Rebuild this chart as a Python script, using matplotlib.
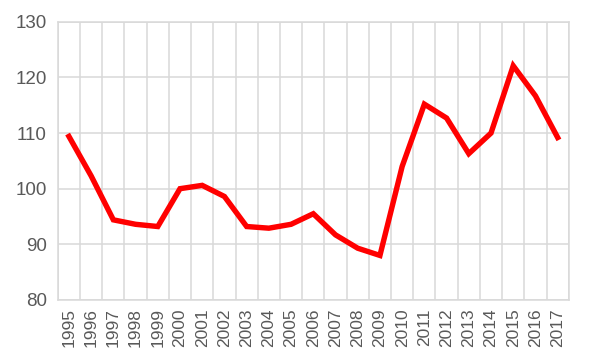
import matplotlib
matplotlib.use("Agg")
import matplotlib.pyplot as plt

years = [str(y) for y in range(1995, 2018)]
values = [109.4, 102.3, 94.4, 93.6, 93.2, 100.0, 100.6, 98.6, 93.2, 92.9,
          93.6, 95.5, 91.7, 89.3, 88.0, 104.0, 115.2, 112.7, 106.3, 110.0,
          122.1, 116.7, 109.2]
yticks = [80, 90, 100, 110, 120, 130]

plt.rcParams['font.family'] = ['Liberation Sans', 'DejaVu Sans']

fig = plt.figure(figsize=(5.9, 3.64), dpi=100)
ax = fig.add_axes([0.098, 0.176, 0.866, 0.764])

x = range(len(years))
ax.plot(x, values, color='#ff0000', linewidth=3.9, solid_joinstyle='miter')

ax.set_xlim(-0.5, len(years) - 0.5)
ax.set_ylim(80, 130)
ax.set_yticks(yticks)
ax.set_xticks(list(x))
ax.set_xticklabels(years, rotation=90)

# category boundaries for vertical grid
for b in [i - 0.5 for i in range(len(years) + 1)]:
    ax.axvline(b, color='#d9d9d9', linewidth=1.1, zorder=0)
ax.yaxis.grid(True, color='#d9d9d9', linewidth=1.1, zorder=0)
ax.set_axisbelow(True)

for s in ax.spines.values():
    s.set_color('#d9d9d9')
    s.set_linewidth(1.1)

ax.tick_params(axis='both', length=0, colors='#595959')
ax.tick_params(axis='y', labelsize=13.5, pad=8)
ax.tick_params(axis='x', labelsize=12.5, pad=6)

fig.savefig('out.png', dpi=100)
